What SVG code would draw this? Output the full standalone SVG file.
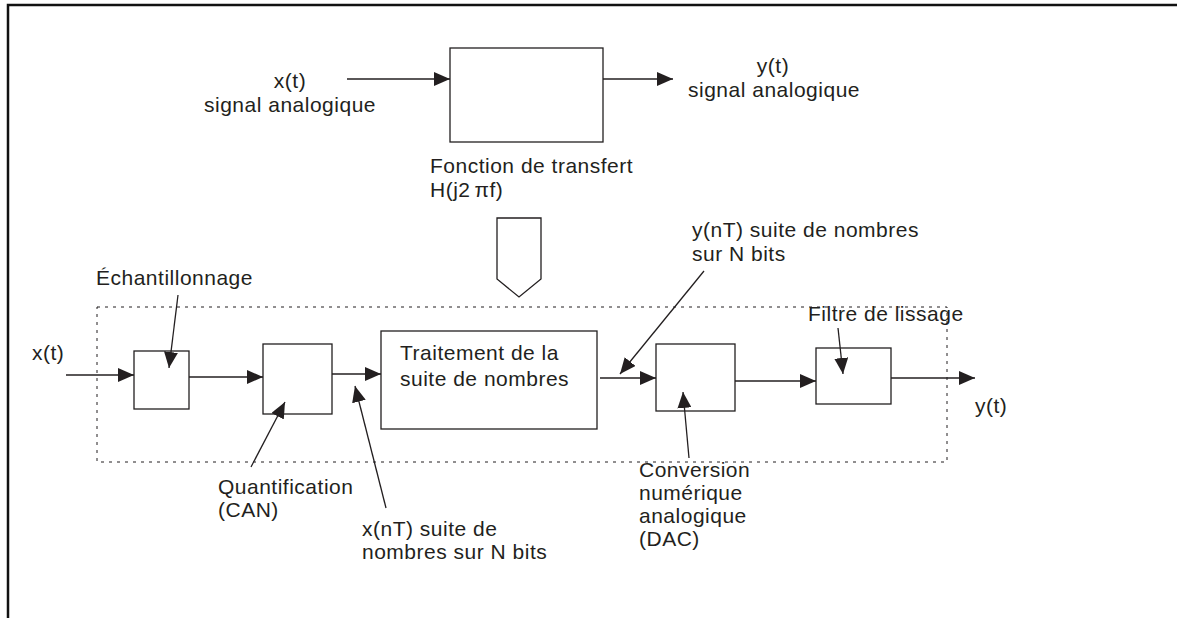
<svg xmlns="http://www.w3.org/2000/svg" width="1177" height="618" viewBox="0 0 1177 618">
  <style>
    .box { fill: #ffffff; stroke: #231f20; stroke-width: 1.3; }
    .wire { fill: none; stroke: #231f20; stroke-width: 1.3; }
    .lbl { font-family: "Liberation Sans", Arial, sans-serif; font-size: 21px; letter-spacing: 0.5px; fill: #231f20; }
    .mid { text-anchor: middle; }
  </style>
  <defs>
    <marker id="head" markerUnits="userSpaceOnUse" markerWidth="16" markerHeight="14" refX="16" refY="7" orient="auto">
      <path d="M0,0 L16,7 L0,14 Z" fill="#231f20"/>
    </marker>
  </defs>

  <rect width="1177" height="618" fill="#ffffff"/>

  <!-- page frame -->
  <path d="M8,618 V5 H1177" fill="none" stroke="#111111" stroke-width="2.5"/>

  <!-- analog system: x(t) -> H(j2πf) -> y(t) -->
  <g id="analog-input">
    <text class="lbl mid" x="290" y="88">x(t)</text>
    <text class="lbl mid" x="290" y="112">signal analogique</text>
  </g>
  <g id="transfer-block">
    <rect class="box" x="450" y="48" width="153" height="94"/>
    <text class="lbl" x="430" y="173">Fonction de transfert</text>
    <text class="lbl" x="430" y="197">H(j2<tspan dx="4">π</tspan>f)</text>
  </g>
  <g id="analog-output">
    <text class="lbl mid" x="773" y="73">y(t)</text>
    <text class="lbl mid" x="774" y="97">signal analogique</text>
  </g>

  <!-- equivalence arrow -->
  <g id="equivalence">
    <polygon class="box" points="497,218 541,218 541,279 519,297 497,279"/>
  </g>

  <!-- digital processing chain -->
  <g id="digital-frame">
    <rect x="97" y="307" width="850" height="155" fill="none" stroke="#231f20" stroke-width="1" stroke-dasharray="3 5"/>
  </g>

  <g id="input-label">
    <text class="lbl" x="32" y="360">x(t)</text>
  </g>
  <g id="sampler">
    <rect class="box" x="134" y="351" width="55" height="58"/>
    <text class="lbl" x="96" y="285">Échantillonnage</text>
  </g>
  <g id="quantizer">
    <rect class="box" x="263" y="344" width="69" height="70"/>
    <text class="lbl" x="218" y="494">Quantification</text>
    <text class="lbl" x="218" y="517">(CAN)</text>
  </g>
  <g id="xnT-label">
    <text class="lbl" x="362" y="536">x(nT) suite de</text>
    <text class="lbl" x="362" y="559">nombres sur N bits</text>
  </g>
  <g id="processor">
    <rect class="box" x="381" y="331" width="216" height="98"/>
    <text class="lbl" x="400" y="360">Traitement de la</text>
    <text class="lbl" x="400" y="386">suite de nombres</text>
  </g>
  <g id="ynT-label">
    <text class="lbl" x="692" y="237">y(nT) suite de nombres</text>
    <text class="lbl" x="692" y="261">sur N bits</text>
  </g>
  <g id="dac">
    <rect class="box" x="656" y="344" width="79" height="67"/>
    <text class="lbl" x="639" y="477">Conversion</text>
    <text class="lbl" x="639" y="500">numérique</text>
    <text class="lbl" x="639" y="523">analogique</text>
    <text class="lbl" x="639" y="546">(DAC)</text>
  </g>
  <g id="smoothing-filter">
    <rect class="box" x="816" y="348" width="75" height="56"/>
    <text class="lbl" x="808" y="321">Filtre de lissage</text>
  </g>
  <g id="output-label">
    <text class="lbl" x="975" y="413">y(t)</text>
  </g>

  <g id="connectors">
    <!-- analog path -->
    <line class="wire" x1="347" y1="79" x2="450" y2="79" marker-end="url(#head)"/>
    <line class="wire" x1="603" y1="79" x2="673" y2="79" marker-end="url(#head)"/>
    <!-- digital chain -->
    <line class="wire" x1="66" y1="375" x2="134" y2="375" marker-end="url(#head)"/>
    <line class="wire" x1="189" y1="377" x2="263" y2="377" marker-end="url(#head)"/>
    <line class="wire" x1="332" y1="374" x2="381" y2="374" marker-end="url(#head)"/>
    <line class="wire" x1="600" y1="378" x2="656" y2="378" marker-end="url(#head)"/>
    <line class="wire" x1="735" y1="381" x2="816" y2="381" marker-end="url(#head)"/>
    <line class="wire" x1="891" y1="378" x2="975" y2="378" marker-end="url(#head)"/>
    <!-- label pointers -->
    <line class="wire" x1="178" y1="295" x2="169" y2="368" marker-end="url(#head)"/>
    <line class="wire" x1="251" y1="467" x2="285" y2="402" marker-end="url(#head)"/>
    <line class="wire" x1="386" y1="508" x2="355" y2="386" marker-end="url(#head)"/>
    <line class="wire" x1="704" y1="271" x2="620" y2="374" marker-end="url(#head)"/>
    <line class="wire" x1="689" y1="458" x2="683" y2="392" marker-end="url(#head)"/>
    <line class="wire" x1="838" y1="328" x2="843" y2="374" marker-end="url(#head)"/>
  </g>
</svg>
